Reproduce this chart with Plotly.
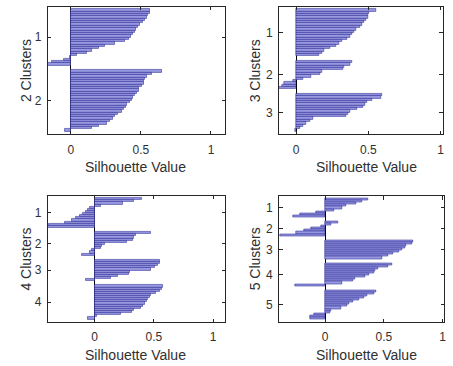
import plotly.graph_objects as go

# Silhouette values per cluster, sorted descending within each cluster
k2_c1 = [0.565, 0.56, 0.55, 0.545, 0.53, 0.51, 0.49, 0.475, 0.465, 0.455, 0.445, 0.43,
         0.415, 0.385, 0.315, 0.245, 0.20, 0.15, 0.11, 0.045, -0.01, -0.05, -0.14, -0.165]
k2_c2 = [0.648, 0.576, 0.54, 0.53, 0.52, 0.517, 0.505, 0.488, 0.483, 0.469, 0.457, 0.445,
         0.433, 0.417, 0.40, 0.39, 0.374, 0.36, 0.338, 0.314, 0.298, 0.274, 0.255, 0.20,
         0.148, -0.043]

k3_c1 = [0.555, 0.505, 0.50, 0.495, 0.486, 0.47, 0.458, 0.44, 0.412, 0.40, 0.39, 0.37,
         0.354, 0.319, 0.296, 0.273, 0.238, 0.192, 0.18, 0.157]
k3_c2 = [0.39, 0.37, 0.335, 0.325, 0.18, 0.165, 0.10, 0.05, -0.02, -0.085, -0.10, -0.118]
k3_c3 = [0.597, 0.585, 0.528, 0.493, 0.475, 0.466, 0.425, 0.37, 0.358, 0.345, 0.115,
         0.095, 0.07, 0.045, 0.025, -0.01]

k4_c1 = [0.40, 0.335, 0.235, 0.05, -0.04, -0.055, -0.075, -0.10, -0.125, -0.16, -0.195,
         -0.25, -0.385, -0.394]
k4_c2 = [0.477, 0.349, 0.334, 0.32, 0.271, 0.083, 0.063, 0.049, -0.023, -0.043, -0.109]
k4_c3 = [0.554, 0.549, 0.534, 0.506, 0.477, 0.294, 0.291, 0.197, 0.134, -0.071]
k4_c4 = [0.577, 0.571, 0.549, 0.52, 0.477, 0.463, 0.449, 0.437, 0.42, 0.406, 0.391,
         0.334, 0.311, 0.22, 0.02, -0.06]

k5_c1 = [0.362, 0.315, 0.26, 0.175, 0.146, 0.076, -0.08, -0.21, -0.275]
k5_c2 = [0.112, 0.048, -0.037, -0.12, -0.177, -0.247, -0.388]
k5_c3 = [0.75, 0.736, 0.688, 0.68, 0.652, 0.632, 0.581, 0.539, 0.483]
k5_c4 = [0.567, 0.539, 0.447, 0.427, 0.413, 0.371, 0.343, 0.258, 0.239, 0.146, -0.261]
k5_c5 = [0.435, 0.413, 0.357, 0.329, 0.287, 0.239, 0.202, 0.183, 0.132, 0.053, 0.042,
         -0.093, -0.126, -0.13]

panels = [
    {"clusters": [k2_c1, k2_c2], "label": "2 Clusters", "xmin": -0.165, "xmax": 1.1},
    {"clusters": [k3_c1, k3_c2, k3_c3], "label": "3 Clusters", "xmin": -0.118, "xmax": 1.013},
    {"clusters": [k4_c1, k4_c2, k4_c3, k4_c4], "label": "4 Clusters", "xmin": -0.394, "xmax": 1.1},
    {"clusters": [k5_c1, k5_c2, k5_c3, k5_c4, k5_c5], "label": "5 Clusters", "xmin": -0.393, "xmax": 1.012},
]
xtick_vals = [0, 0.5, 1]
xtick_text = ["0", "0.5", "1"]

W, H = 453, 366
# axes boxes in pixels: (left, right, top, bottom)
boxes = [(48, 226, 6.7, 134.3), (280.3, 444.5, 6.7, 134.3),
         (48, 226, 195.7, 322), (280.3, 446, 196.3, 322)]
ytitle_pos = [(25.7, 70.5), (256, 70.5), (25.7, 259), (256, 258.5)]
xtitle_pos = [(136, 167), (368, 167), (136, 355.3), (368, 355.3)]

TEXT = "#303030"
FONT = "Liberation Sans, Arial, sans-serif"
GAP = 2  # empty slots between clusters

fig = go.Figure()
annotations = []
for i, p in enumerate(panels):
    ys, xs, tickpos, ticklab = [], [], [], []
    pos = 1
    for ci, vals in enumerate(p["clusters"]):
        idx = list(range(pos, pos + len(vals)))
        ys += idx
        xs += vals
        tickpos.append((idx[0] + idx[-1]) / 2)
        ticklab.append(str(ci + 1))
        pos += len(vals) + GAP
    last = ys[-1]
    ax = "" if i == 0 else str(i + 1)
    fig.add_trace(go.Bar(
        x=xs, y=ys, orientation="h", width=1.0,
        marker=dict(color="rgb(152,152,224)", line=dict(color="rgb(40,40,150)", width=0.55)),
        xaxis="x" + ax, yaxis="y" + ax, showlegend=False, hoverinfo="x",
    ))
    l, r, t, b = boxes[i]
    common = dict(showline=True, linecolor="#262626", linewidth=1, mirror="allticks",
                  ticks="inside", ticklen=3.5, tickcolor="#262626", showgrid=False,
                  tickfont=dict(family=FONT, size=12, color=TEXT))
    fig.update_layout(**{
        "xaxis" + ax: dict(domain=[l / W, r / W], anchor="y" + ax,
                           range=[p["xmin"], p["xmax"]], tickvals=xtick_vals,
                           ticktext=xtick_text, zeroline=True, zerolinecolor="#000000",
                           zerolinewidth=1, ticklabelstandoff=4, **common),
        "yaxis" + ax: dict(domain=[1 - b / H, 1 - t / H], anchor="x" + ax,
                           range=[last + 0.5 + 1.3, 0.5 - 1.0], tickvals=tickpos,
                           ticktext=ticklab, zeroline=False, ticklabelstandoff=3, **common),
    })
    tx, ty = ytitle_pos[i]
    annotations.append(dict(text=p["label"], x=tx / W, y=1 - ty / H, xref="paper", yref="paper",
                            showarrow=False, textangle=-90, xanchor="center", yanchor="middle",
                            font=dict(family=FONT, size=14, color=TEXT)))
    tx, ty = xtitle_pos[i]
    annotations.append(dict(text="Silhouette Value", x=tx / W, y=1 - ty / H, xref="paper",
                            yref="paper", showarrow=False, xanchor="center", yanchor="middle",
                            font=dict(family=FONT, size=14, color=TEXT)))

fig.update_layout(width=W, height=H, margin=dict(l=0, r=0, t=0, b=0),
                  paper_bgcolor="white", plot_bgcolor="white", bargap=0,
                  annotations=annotations)
fig.write_html("out.html")
